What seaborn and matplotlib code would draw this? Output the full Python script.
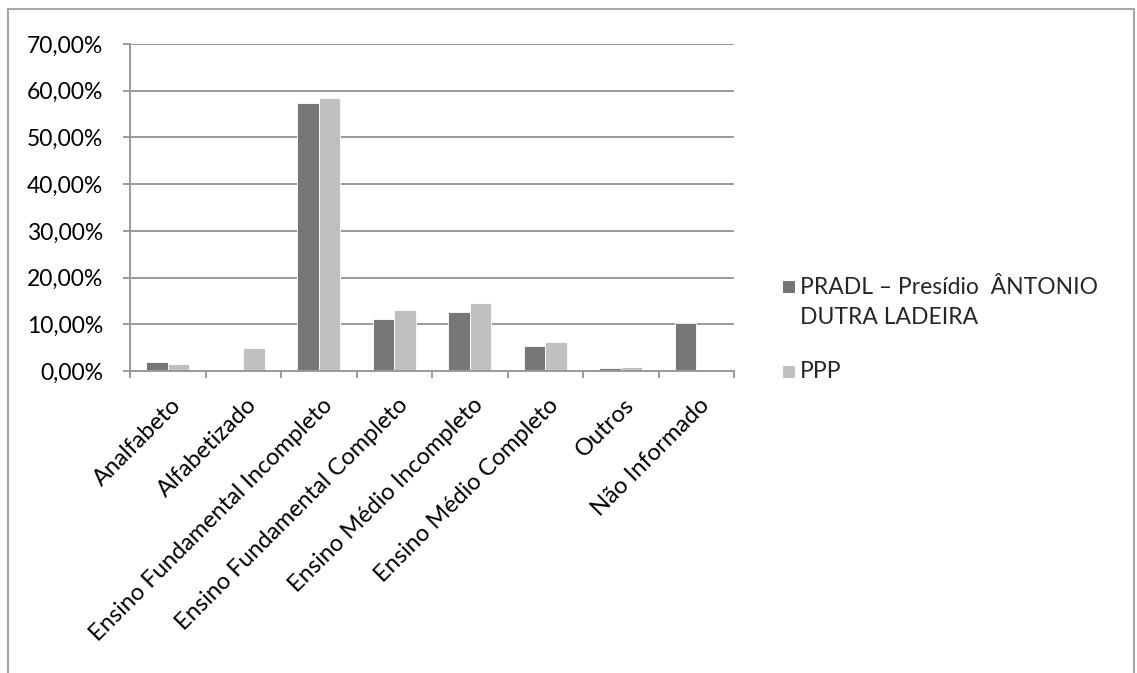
import matplotlib
matplotlib.use("Agg")
import matplotlib.pyplot as plt
from matplotlib.patches import Rectangle
from matplotlib.ticker import FixedLocator, FuncFormatter
from matplotlib.transforms import ScaledTranslation
import pandas as pd
import seaborn as sns

# Schooling level of inmates, share of each unit's population (%)
categories = [
    "Analfabeto",
    "Alfabetizado",
    "Ensino Fundamental Incompleto",
    "Ensino Fundamental Completo",
    "Ensino Médio Incompleto",
    "Ensino Médio Completo",
    "Outros",
    "Não Informado",
]
series_names = ["PRADL – Presídio  ÂNTONIO\nDUTRA LADEIRA", "PPP"]
pradl_values = [2.0, 0.0, 57.4, 11.2, 12.6, 5.3, 0.6, 10.3]
ppp_values = [1.4, 5.0, 58.5, 13.0, 14.6, 6.2, 0.9, 0.0]
y_ticks = [0, 10, 20, 30, 40, 50, 60, 70]

colors = ["#767676", "#c0c0c0"]
grid_gray = "#9a9a9a"
FS = 16.5

sns.set_theme(style="white")
plt.rcParams["font.family"] = ["Lato", "DejaVu Sans"]

df = pd.DataFrame({
    "categoria": categories * 2,
    "serie": [series_names[0]] * len(categories) + [series_names[1]] * len(categories),
    "valor": pradl_values + ppp_values,
})

W, H = 1137, 673
fig = plt.figure(figsize=(W / 100, H / 100), dpi=100)

# outer chart frame
fig.patches.append(Rectangle((8 / W, -0.05), (1134 - 8) / W, 1.05 - 9 / H,
                             transform=fig.transFigure, fill=False,
                             edgecolor="#a6a6a6", linewidth=1.5, zorder=0))

x0, x1 = 130, 734
y_top, y_zero = 44, 371
ax = fig.add_axes([x0 / W, (H - y_zero) / H, (x1 - x0) / W, (y_zero - y_top) / H])

sns.barplot(data=df, x="categoria", y="valor", hue="serie",
            order=categories, hue_order=series_names, palette=colors,
            width=0.57, saturation=1, edgecolor="white", linewidth=0.6,
            ax=ax, zorder=3, legend=False)

ax.set_xlim(-0.5, len(categories) - 0.5)
ax.set_ylim(0, 70)
ax.set_yticks(y_ticks)
ax.yaxis.set_major_formatter(FuncFormatter(lambda v, p: f"{v:.2f}%".replace(".", ",")))
ax.grid(axis="y", color=grid_gray, linewidth=1.4, zorder=0)
ax.set_axisbelow(True)

for side in ["top", "right"]:
    ax.spines[side].set_visible(False)
for side in ["left", "bottom"]:
    ax.spines[side].set_color(grid_gray)
    ax.spines[side].set_linewidth(1.4)
    ax.spines[side].set_zorder(4)

ax.set_xlabel("")
ax.set_ylabel("")
ax.tick_params(axis="y", which="major", length=5, width=1.4, color=grid_gray,
               direction="out", labelsize=FS, pad=14.4, labelcolor="black", left=True)
ax.set_xticks(range(len(categories)))
ax.set_xticklabels(categories, rotation=45, ha="right", rotation_mode="anchor",
                   fontsize=17, color="black")
ax.tick_params(axis="x", which="major", length=0, pad=16.8)
shift = ScaledTranslation(2.6 / 100, 0, fig.dpi_scale_trans)
for lbl in ax.get_xticklabels():
    lbl.set_transform(lbl.get_transform() + shift)
ax.xaxis.set_minor_locator(FixedLocator([i - 0.5 for i in range(len(categories) + 1)]))
ax.tick_params(axis="x", which="minor", length=5, width=1.4, color=grid_gray,
               direction="out", bottom=True)

# legend: square swatch aligned with the first line of each entry
legend_rows = [(series_names[0], 287), (series_names[1], 372)]
for (name, yc), col in zip(legend_rows, colors):
    fig.patches.append(Rectangle((783 / W, (H - yc - 6) / H), 12 / W, 12 / H,
                                 transform=fig.transFigure, facecolor=col,
                                 edgecolor="none"))
    lines = name.split("\n")
    for k, line in enumerate(lines):
        fig.text(800 / W, (H - yc - 31 * k) / H, line, fontsize=FS,
                 ha="left", va="center")

fig.savefig("out.png", dpi=100)
